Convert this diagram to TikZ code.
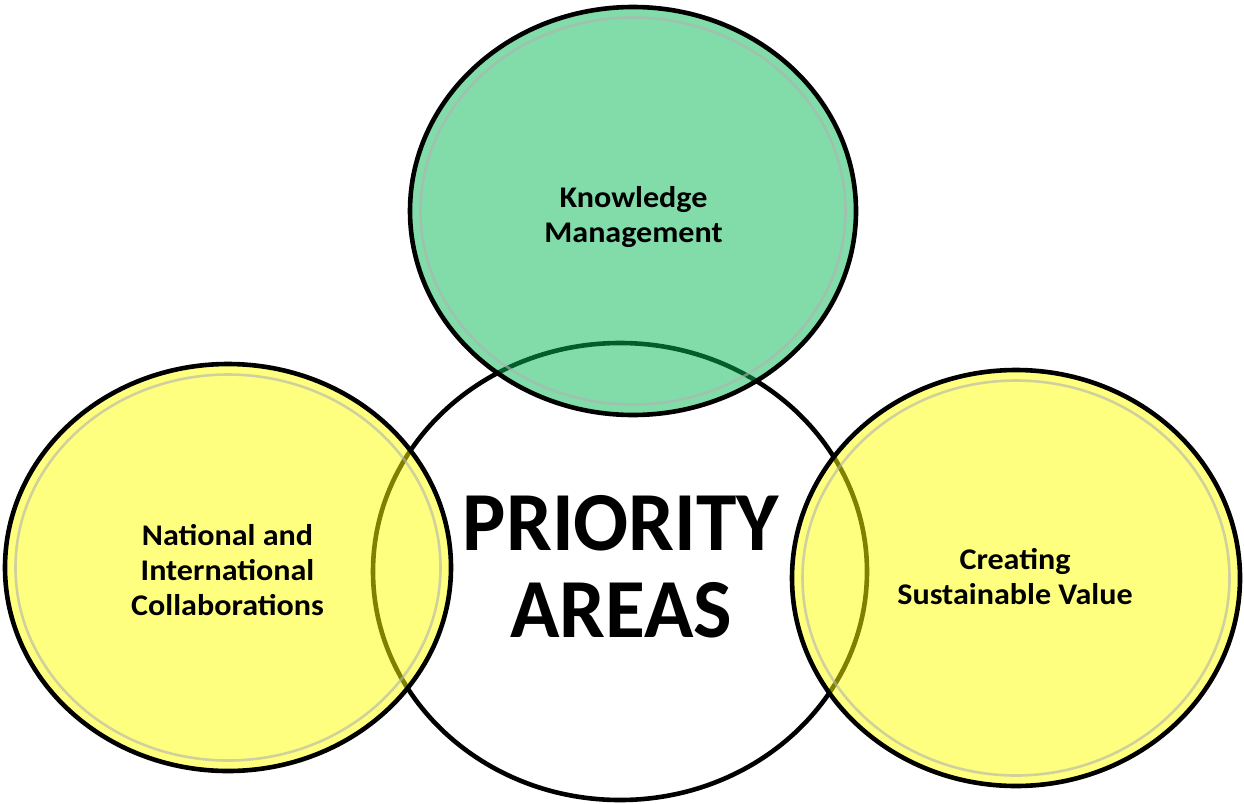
\documentclass[tikz,border=0pt]{standalone}
\usepackage{fontspec}
\usepackage{graphicx}
\setmainfont{Carlito}
\usetikzlibrary{shapes.geometric}
\definecolor{kmgreen}{RGB}{5,187,85}
\definecolor{cyellow}{RGB}{255,255,0}
\newcommand{\stretchlines}[2]{\scalebox{#1}[1]{\begin{tabular}{@{}c@{}}#2\end{tabular}}}
\begin{document}
\begin{tikzpicture}[x=1pt,y=-1pt,
  bubble/.style={ellipse, draw=black, line width=4.6pt, inner sep=0pt, fill opacity=0.5, draw opacity=1},
  bevel/.style={ellipse, draw=gray!60, line width=2.6pt, draw opacity=0.6, inner sep=0pt},
  smalltext/.style={font=\bfseries\fontsize{30}{35}\selectfont, text=black, inner sep=0pt},
  bigtext/.style={font=\bfseries\fontsize{84}{87}\selectfont, text=black, inner sep=0pt}]
\useasboundingbox (0,0) rectangle (1244,803);
\fill[white] (0,0) rectangle (1244,803);
% central circle
\node[ellipse, draw=black, line width=4.6pt, fill=white, inner sep=0pt, minimum width=494pt, minimum height=457pt] (core) at (620,571.5) {};
% coloured circles
\node[bubble, fill=kmgreen, minimum width=446pt, minimum height=408pt] (km) at (633,211) {};
\node[bubble, fill=cyellow, minimum width=446pt, minimum height=407pt] (nic) at (228,567.5) {};
\node[bubble, fill=cyellow, minimum width=448pt, minimum height=416pt] (csv) at (1016,578) {};
% bevel rings
\node[bevel, minimum width=425pt, minimum height=387pt] (kmr) at (km.center) {};
\node[bevel, minimum width=425pt, minimum height=386pt] (nicr) at (nic.center) {};
\node[bevel, minimum width=427pt, minimum height=395pt] (csvr) at (csv.center) {};
% texts
\node[bigtext] (coret) at (621,576.1) {\stretchlines{0.97}{PRIORITY\\AREAS}};
\node[smalltext] (kmt) at (633.5,217.5) {\stretchlines{1.07}{Knowledge\\Management}};
\node[smalltext] (nict) at (227.5,573) {\stretchlines{1.07}{National and\\International\\Collaborations}};
\node[smalltext] (csvt) at (1015,580) {\stretchlines{1.07}{Creating\\Sustainable Value}};
\end{tikzpicture}
\end{document}
